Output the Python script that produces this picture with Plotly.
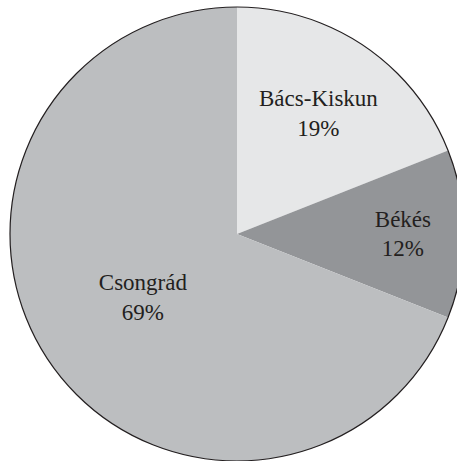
import plotly.graph_objects as go

labels = ["Bács-Kiskun", "Békés", "Csongrád"]
values = [19, 12, 69]
colors = ["#e6e7e8", "#939598", "#bcbec0"]

fig = go.Figure(go.Pie(
    labels=labels,
    values=values,
    sort=False,
    direction="clockwise",
    rotation=0,
    marker=dict(colors=colors, line=dict(width=0)),
    texttemplate="%{label}<br>%{percent:.0%}",
    textposition="inside",
    insidetextorientation="horizontal",
    textfont=dict(family="Liberation Serif", size=23, color="#231f20"),
    showlegend=False,
    hoverinfo="skip",
))

fig.add_shape(type="circle", xref="paper", yref="paper", x0=0, x1=1, y0=0, y1=1,
              line=dict(color="#231f20", width=1.2))

fig.update_layout(
    width=474, height=468,
    margin=dict(l=10, r=10, t=7, b=7),
    paper_bgcolor="white", plot_bgcolor="white",
    uniformtext=dict(minsize=23, mode="show"),
)

fig.write_html("out.html", config={"displayModeBar": False},
               post_script="document.body.style.margin='0';document.body.style.overflow='hidden';document.documentElement.style.overflow='hidden';")
